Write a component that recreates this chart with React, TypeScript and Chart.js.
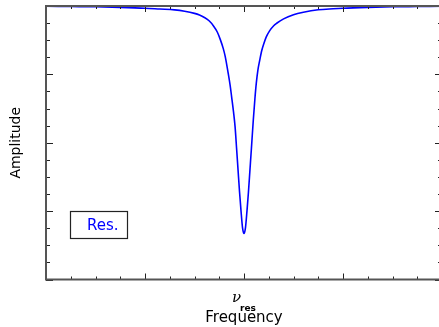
import React, { useEffect, useRef } from "react";
import { Chart, registerables } from "chart.js";

Chart.register(...registerables);

// Frequency offsets from resonance (major tick = 1 unit) and amplitude
const freq = [
  -2.0, -1.75, -1.5, -1.25, -1.0, -0.85, -0.7, -0.6, -0.5, -0.45, -0.4, -0.35, -0.31, -0.27, -0.24, -0.21,
  -0.19, -0.16, -0.14, -0.125, -0.105, -0.09, -0.075, -0.06, -0.045, -0.03, -0.015, 0.0,
  0.015, 0.03, 0.045, 0.06, 0.075, 0.094, 0.11, 0.124, 0.14, 0.159, 0.18, 0.2, 0.225, 0.26, 0.3,
  0.33, 0.4, 0.5, 0.6, 0.75, 0.9, 1.0, 1.25, 1.5, 1.75, 2.0,
];
const amplitude = [
  0.999, 0.998, 0.997, 0.995, 0.992, 0.989, 0.986, 0.981, 0.973, 0.967, 0.958, 0.945, 0.928, 0.905, 0.878, 0.845,
  0.816, 0.755, 0.71, 0.668, 0.61, 0.558, 0.48, 0.4, 0.32, 0.25, 0.19, 0.168,
  0.19, 0.25, 0.32, 0.4, 0.48, 0.583, 0.66, 0.717, 0.765, 0.802, 0.838, 0.862, 0.887, 0.91, 0.928,
  0.937, 0.953, 0.968, 0.977, 0.986, 0.99, 0.992, 0.995, 0.997, 0.998, 0.999,
];
const seriesLabel = "Res.";
const xTitle = "Frequency";
const yTitle = "Amplitude";
const centerTickSymbol = "\u03BD";
const centerTickSub = "res";

const X_MIN = -2, X_MAX = 2, Y_MIN = 0, Y_MAX = 1;

const framePlugin = {
  id: "frame",
  afterDraw(chart: any) {
    const { ctx, chartArea: a, scales } = chart;
    const xs = scales.x, ys = scales.y;
    ctx.save();
    // ticks
    ctx.strokeStyle = "#222";
    ctx.lineWidth = 1;
    for (let i = 0; i <= 16; i++) {
      const v = X_MIN + i * 0.25;
      const px = Math.round(xs.getPixelForValue(v)) + 0.5;
      const len = i % 4 === 0 ? 6 : 3;
      ctx.beginPath();
      ctx.moveTo(px, a.bottom);
      ctx.lineTo(px, a.bottom - len);
      ctx.moveTo(px, a.top);
      ctx.lineTo(px, a.top + len);
      ctx.stroke();
    }
    for (let i = 0; i <= 16; i++) {
      const v = Y_MIN + i * 0.0625;
      const py = Math.round(ys.getPixelForValue(v)) + 0.5;
      const len = i % 4 === 0 ? 7 : 4;
      ctx.beginPath();
      ctx.moveTo(a.left, py);
      ctx.lineTo(a.left + len, py);
      ctx.moveTo(a.right, py);
      ctx.lineTo(a.right - len, py);
      ctx.stroke();
    }
    // frame
    ctx.strokeStyle = "#555";
    ctx.lineWidth = 2;
    ctx.strokeRect(a.left, a.top, a.right - a.left, a.bottom - a.top);

    // center tick label
    const cx = xs.getPixelForValue(0);
    ctx.fillStyle = "#000";
    ctx.textBaseline = "alphabetic";
    ctx.textAlign = "left";
    ctx.font = "italic 15px 'DejaVu Serif'";
    ctx.fillText(centerTickSymbol, cx - 12, a.bottom + 22);
    ctx.font = "bold 9px 'DejaVu Sans'";
    ctx.fillText(centerTickSub, cx - 4, a.bottom + 31);

    // axis titles
    ctx.font = "15px 'DejaVu Sans'";
    ctx.textAlign = "center";
    ctx.fillText(xTitle, cx, a.bottom + 42);
    ctx.save();
    ctx.translate(20, (a.top + a.bottom) / 2);
    ctx.rotate(-Math.PI / 2);
    ctx.font = "14px 'DejaVu Sans'";
    ctx.fillText(yTitle, 0, 0);
    ctx.restore();

    // legend box
    ctx.strokeStyle = "#222";
    ctx.lineWidth = 1.2;
    ctx.strokeRect(70.5, 211.5, 57, 27);
    ctx.fillStyle = "#0000ff";
    ctx.textAlign = "left";
    ctx.font = "15px 'DejaVu Sans'";
    ctx.fillText(seriesLabel, 87, 230);
    ctx.restore();
  },
};

export default function App() {
  const ref = useRef<HTMLCanvasElement>(null);
  useEffect(() => {
    if (!ref.current) return;
    const chart = new Chart(ref.current, {
      type: "line",
      data: {
        datasets: [
          {
            label: seriesLabel,
            data: freq.map((f, i) => ({ x: f, y: amplitude[i] })),
            borderColor: "#0000ff",
            borderWidth: 1.6,
            pointRadius: 0,
            cubicInterpolationMode: "monotone",
            fill: false,
            clip: 6,
          } as any,
        ],
      },
      options: {
        responsive: false,
        animation: false,
        layout: { padding: { left: 46, right: 4, top: 6, bottom: 47.5 } },
        plugins: { legend: { display: false }, tooltip: { enabled: false } },
        scales: {
          x: { type: "linear", min: X_MIN, max: X_MAX, display: false },
          y: { type: "linear", min: Y_MIN, max: Y_MAX, display: false },
        },
      },
      plugins: [framePlugin],
    });
    return () => chart.destroy();
  }, []);
  return (
    <div style={{ position: "fixed", left: 0, top: 0, width: 439, height: 327, overflow: "hidden", background: "#fff" }}>
      <canvas ref={ref} width={446} height={327} style={{ display: "block" }} />
    </div>
  );
}
